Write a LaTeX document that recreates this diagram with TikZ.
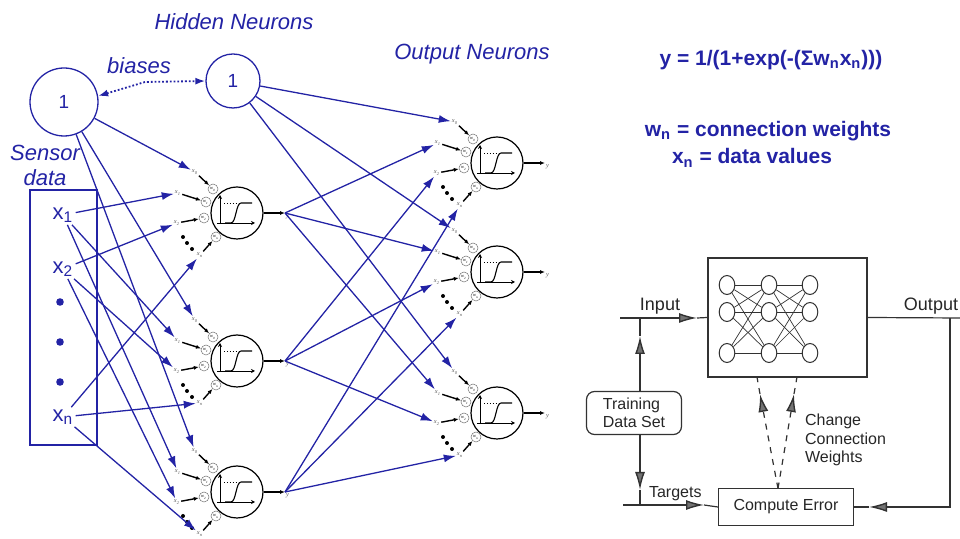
\documentclass[tikz,border=0pt]{standalone}
\usepackage{fontspec}
\setmainfont{Liberation Sans}
\newfontfamily\serifsmall{Liberation Serif}
\usetikzlibrary{arrows.meta,shapes.geometric}
\definecolor{netblue}{RGB}{35,35,165}
\definecolor{scan}{RGB}{50,50,50}

\begin{document}
\begin{tikzpicture}[x=0.5pt,y=-0.5pt,
  blueline/.style={draw=netblue, line width=0.65pt, -{Latex[length=6pt,width=4pt]}},
  bluetext/.style={text=netblue, font=\itshape\fontsize{11}{12.5}\selectfont},
  bias/.style={circle, draw=netblue, line width=0.65pt, text=netblue, inner sep=0pt, font=\fontsize{9.5}{10}\selectfont},
  sensor/.style={text=netblue, inner sep=1pt, font=\fontsize{11}{12}\selectfont},
  formula/.style={text=netblue, font=\bfseries\fontsize{10.5}{12}\selectfont},
  neuron/.style={circle, draw, fill=white, line width=0.6pt, minimum size=26pt, inner sep=0pt},
  wt/.style={circle, draw=black!55, fill=white, line width=0.25pt, minimum size=5pt, inner sep=0pt, font=\serifsmall\itshape\fontsize{2.3}{2.5}\selectfont},
  inlab/.style={inner sep=0.4pt, text=black!65, font=\serifsmall\itshape\fontsize{3.2}{3.5}\selectfont},
  stub/.style={line width=0.7pt, -{Latex[length=2.5pt,width=2pt]}},
  sketch/.style={draw=scan, line width=0.6pt},
  sketcharrow/.style={sketch, -{Latex[fill=black!55, line width=0.7pt, length=9pt, width=5pt]}},
  unit/.style={ellipse, draw=scan, line width=0.5pt, minimum width=7.8pt, minimum height=9.5pt, inner sep=0pt},
  box/.style={draw=scan, line width=0.6pt, inner sep=0pt},
  boxtext/.style={text=black!85, font=\fontsize{8}{9.25}\selectfont}
]
\useasboundingbox (0,0) rectangle (960,539);

% titles and formulas
\node[bluetext] (hidlab) at (234,22) {Hidden Neurons};
\node[bluetext] (outlab) at (472,54) {Output Neurons};
\node[bluetext] (biaslab) at (139,66) {biases};
\node[bluetext, align=center] (senslab) at (45,165) {Sensor\\data};
\node[formula] (eq) at (771,60) {y = 1/(1+exp(-(Σw\textsubscript{n}x\textsubscript{n})))};
\node[formula] (wdef) at (768,131) {w\textsubscript{n} = connection weights};
\node[formula] (xdef) at (752,158) {x\textsubscript{n} = data values};

% bias units and sensor data
\node[bias, minimum size=34pt] (b1) at (64,102) {1};
\node[bias, minimum size=27pt] (b2) at (233,81) {1};
\coordinate (bk) at (145,82);
\draw[netblue, densely dotted, line width=0.9pt, {Latex[length=5pt,width=3.5pt]}-{Latex[length=5pt,width=3.5pt]}] (b1.10) -- (bk) -- (b2.west);
\draw[netblue, line width=0.65pt] (30,190) rectangle (97,445);
\node[sensor] (x1) at (63,215) {x\textsubscript{1}};
\node[sensor] (x2) at (63,269) {x\textsubscript{2}};
\node[sensor] (xn) at (63,417) {x\textsubscript{n}};
\foreach \yy in {302,342,382} \fill[netblue] (60,\yy) circle (1.9pt);

% neurons
\foreach \n/\x/\y in {h1/237/213, h2/237/361, h3/237/492, o1/497/163, o2/497/272, o3/497/413} {
  \begin{scope}[shift={(\x,\y)}]
    \node[neuron] (\n) at (0,0) {};
    \draw[line width=0.45pt, -{Stealth[length=2pt,width=2pt]}] (-17,10) -- (-17,-18);
    \draw[line width=0.45pt, -{Stealth[length=2pt,width=2pt]}] (-20,10) -- (18,10);
    \draw[densely dotted, line width=0.45pt] (-13,-10) -- (4,-10);
    \draw[line width=0.55pt] (-12,10) -- (-6,10) .. controls (-1,10) and (-1,-10) .. (4,-10) -- (15,-10);
    \node[wt] (\n-w0) at (-24,-24) {w\textsubscript{0}};
    \node[wt] (\n-w1) at (-31,-11) {w\textsubscript{1}};
    \node[wt] (\n-w2) at (-33,5) {w\textsubscript{2}};
    \node[wt] (\n-wn) at (-21,24) {w\textsubscript{n}};
    \node[inlab] (\n-i0) at (-42,-41) {x\textsubscript{0}};
    \node[inlab] (\n-i1) at (-59,-20) {x\textsubscript{1}};
    \node[inlab] (\n-i2) at (-60,10) {x\textsubscript{2}};
    \node[inlab] (\n-in) at (-37,42) {x\textsubscript{n}};
    \foreach \k in {0,1,2,n} \draw[stub] (\n-i\k) -- (\n-w\k);
    \foreach \dx/\dy in {-54/24, -50/30, -45/36} \fill (\dx,\dy) circle (1pt);
    \coordinate (\n-out) at (48,0);
    \draw[stub] (\n) -- (\n-out);
    \node[inlab, anchor=north west] (\n-y) at (\n-out) {y};
  \end{scope}
}

% connections
\foreach \s/\k in {b1/0, x1/1, x2/2, xn/n}
  \foreach \m in {h1,h2,h3}
    \draw[blueline] (\s) -- (\m-i\k);
\foreach \s/\k in {b2/0, h1-out/1, h2-out/2, h3-out/n}
  \foreach \m in {o1,o2,o3}
    \draw[blueline] (\s) -- (\m-i\k);

% training loop
\node[box, minimum width=79.5pt, minimum height=59.5pt] (net) at (787.5,317.5) {};
\foreach \col/\cx in {1/727, 2/769, 3/810}
  \foreach \row/\ry in {1/285, 2/312, 3/353}
    \node[unit] (u\col\row) at (\cx,\ry) {};
\foreach \ra in {1,2,3}
  \foreach \rb in {1,2,3} {
    \draw[sketch, line width=0.35pt] (u1\ra) -- (u2\rb);
    \draw[sketch, line width=0.35pt] (u2\ra) -- (u3\rb);
  }
\coordinate (inL) at (620,318);
\coordinate (inJ) at (640,318);
\coordinate (inT) at (697,318);
\draw[sketcharrow] (inL) -- (inT);
\draw[sketch] (inT) -- (net.west);
\node[boxtext, font=\fontsize{9}{10}\selectfont] (inlab) at (660,306) {Input};
\node[box, rounded corners=4pt, minimum width=47.5pt, minimum height=21.5pt, align=left, boxtext] (tds) at (634,413) {Training\\Data Set};
\coordinate (upT) at (640,336);
\draw[sketcharrow] (tds.north -| inJ) -- (upT);
\draw[sketch] (upT) -- (inJ);
\coordinate (tgL) at (623,505);
\coordinate (tgJ) at (640,505);
\coordinate (dnT) at (640,490);
\draw[sketcharrow] (tds.south -| tgJ) -- (dnT);
\draw[sketch] (dnT) -- (tgJ);
\node[boxtext, anchor=west] (tglab) at (642,494) {Targets};
\node[box, minimum width=67.5pt, minimum height=18.5pt, boxtext] (ce) at (786,507) {Compute Error};
\coordinate (tgT) at (704,505);
\draw[sketcharrow] (tgL) -- (tgT);
\draw[sketch] (tgT) -- (ce.west);
\coordinate (outR) at (960,318);
\coordinate (outJ) at (950,318);
\draw[sketch] (net.east) -- (outR);
\node[boxtext, font=\fontsize{9}{10}\selectfont] (outlab2) at (931,306) {Output};
\coordinate (fbT) at (869,507);
\draw[sketcharrow] (outJ) -- (outJ |- ce.east) -- (fbT);
\draw[sketch] (fbT) -- (ce.east);
\coordinate (ceTop) at (778,488.5);
\coordinate (cwA) at (757,377);
\coordinate (cwB) at (797,377);
\coordinate (cwAT) at (760,394);
\coordinate (cwBT) at (794,394);
\draw[sketcharrow, dashed] (ceTop) -- (cwAT);
\draw[sketch, dashed] (cwAT) -- (cwA);
\draw[sketcharrow, dashed] (ceTop) -- (cwBT);
\draw[sketch, dashed] (cwBT) -- (cwB);
\node[boxtext, align=left, anchor=west] (cwlab) at (798,440) {Change\\Connection\\Weights};
\end{tikzpicture}
\end{document}
